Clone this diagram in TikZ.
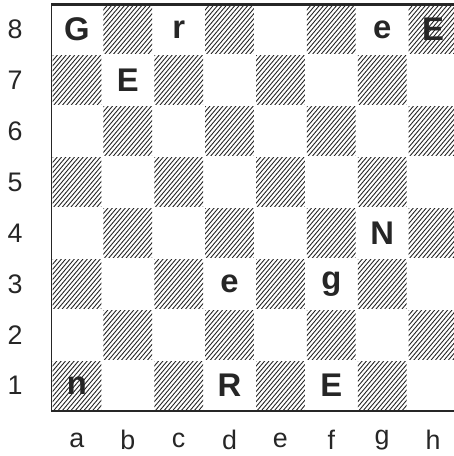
\documentclass[tikz,border=0pt]{standalone}
\usepackage{fontspec}
\setmainfont{Liberation Sans}
\usepackage{tikz}
\usetikzlibrary{positioning}

\tikzset{
  hatch/.style={line width=0.6pt, draw=black!85},
  border/.style={line width=1.3pt, draw=black!85},
  piece/.style={font=\fontsize{22}{26}\selectfont\bfseries, text=black!85, inner sep=0pt},
  coordlabel/.style={font=\fontsize{18}{21}\selectfont, text=black!85},
}

\begin{document}
\begin{tikzpicture}[x=1.2cm, y=1.2cm]
    \clip (-1.012,-0.884) rectangle (7.908,8.079);
    % hatched (dark) squares
    \foreach \f in {0,...,7}
      \foreach \r in {0,...,7} {
        \pgfmathtruncatemacro{\dark}{mod(\f+\r,2)}
        \ifnum\dark=0
          \begin{scope}
            \clip (\f+0.02,\r+0.02) rectangle (\f+0.98,\r+0.98);
            \draw[hatch] foreach \k in {-0.9,-0.815,...,1.0} {(\f+\k,\r) -- ++(0.85,1)};
          \end{scope}
        \fi
      }
    % board edges
    \draw[border] (8,0) -- (0,0) -- (0,8);
    \draw[border, line width=2pt] (0,8) -- (8,8);
    % ranks and files
    \foreach \r in {1,...,8}
      \node[coordlabel] (rank\r) at (-0.717,\r-0.5) {\r};
    \foreach \f [count=\i from 0] in {a,...,h}
      \node[coordlabel] (file\f) at (\i+0.5,-0.57) {\f};
    % pieces
    \node[piece] (a8) at (0.5,7.5) {G};
    \node[piece] (c8) at (2.5,7.5) {r};
    \node[piece] (g8) at (6.5,7.5) {e};
    \node[piece] (h8) at (7.5,7.5) {E};
    \node[piece] (b7) at (1.5,6.5) {E};
    \node[piece] (g4) at (6.5,3.5) {N};
    \node[piece] (d3) at (3.5,2.5) {e};
    \node[piece] (f3) at (5.5,2.5) {g};
    \node[piece] (a1) at (0.5,0.5) {n};
    \node[piece] (d1) at (3.5,0.5) {R};
    \node[piece] (f1) at (5.5,0.5) {E};
\end{tikzpicture}
\end{document}
